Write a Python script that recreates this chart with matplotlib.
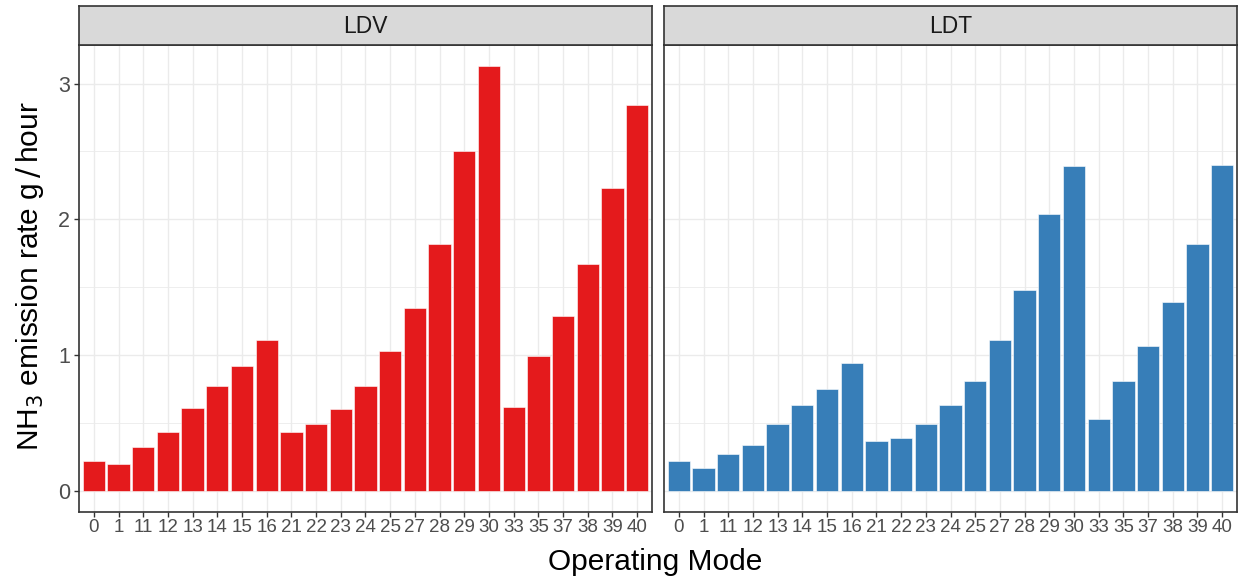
import numpy as np
import matplotlib.pyplot as plt

plt.rcParams['font.family'] = ['Liberation Sans', 'DejaVu Sans']

# operating modes (discrete x categories)
modes = ["0", "1", "11", "12", "13", "14", "15", "16", "21", "22", "23", "24",
         "25", "27", "28", "29", "30", "33", "35", "37", "38", "39", "40"]

# NH3 emission rate, g/hour
ldv = [0.22, 0.20, 0.32, 0.43, 0.61, 0.77, 0.92, 1.11, 0.43, 0.49, 0.60, 0.77,
       1.03, 1.35, 1.82, 2.50, 3.13, 0.62, 0.99, 1.29, 1.67, 2.23, 2.84]
ldt = [0.22, 0.17, 0.27, 0.34, 0.49, 0.63, 0.75, 0.94, 0.37, 0.39, 0.49, 0.63,
       0.81, 1.11, 1.48, 2.04, 2.39, 0.53, 0.81, 1.07, 1.39, 1.82, 2.40]

panels = [("LDV", ldv, "#E41A1C"), ("LDT", ldt, "#377EB8")]

W, H = 1238, 581
fig = plt.figure(figsize=(W / 100, H / 100), dpi=100)

grid_col = "#EBEBEB"
border_col = "#333333"
x = np.arange(1, len(modes) + 1)
ymax = max(max(ldv), max(ldt))
pad = ymax * 0.05

lefts = [79, 664]
pw = 573
top_px, bot_px, strip_px = 44.7, 512, 39

for i, (name, vals, col) in enumerate(panels):
    l = lefts[i] / W
    b = 1 - bot_px / H
    h = (bot_px - top_px) / H
    ax = fig.add_axes([l, b, pw / W, h])
    ax.set_axisbelow(True)
    ax.bar(x, vals, width=0.9, color=col, edgecolor="white", linewidth=0.4)
    ax.set_xlim(0.4, len(modes) + 0.6)
    ax.set_ylim(-pad, ymax + pad)

    ax.set_yticks([0, 1, 2, 3])
    ax.set_yticks([0.5, 1.5, 2.5], minor=True)
    ax.set_xticks(x)
    ax.set_xticklabels(modes)
    ax.grid(True, which="major", color=grid_col, lw=1.0)
    ax.grid(True, which="minor", axis="y", color=grid_col, lw=0.6)
    ax.tick_params(axis="both", which="major", length=3.5, width=1.0,
                   color=border_col, labelcolor="#4D4D4D")
    ax.tick_params(axis="x", labelsize=13.5, pad=1.5)
    ax.tick_params(axis="y", labelsize=15.5, pad=3)
    ax.tick_params(axis="y", which="minor", length=0)
    if i == 1:
        ax.tick_params(axis="y", labelleft=False, length=0)
    for s in ax.spines.values():
        s.set_color(border_col)
        s.set_linewidth(1.2)

    # facet strip
    sax = fig.add_axes([l, 1 - top_px / H, pw / W, strip_px / H])
    sax.set_xticks([])
    sax.set_yticks([])
    sax.set_facecolor("#D9D9D9")
    for s in sax.spines.values():
        s.set_color(border_col)
        s.set_linewidth(1.2)
    sax.text(0.5, 0.46, name, ha="center", va="center", fontsize=16.5,
             color="#1A1A1A", transform=sax.transAxes)

fig.text(655 / W, 1 - 562 / H, "Operating Mode", ha="center", va="center",
         fontsize=21.5, color="black")
fig.text(30 / W, 1 - 276 / H, r"NH$_3$ emission rate g$\,/\,$hour", ha="center",
         va="center", rotation=90, fontsize=21.5, color="black")

fig.savefig("out.png", dpi=100)
